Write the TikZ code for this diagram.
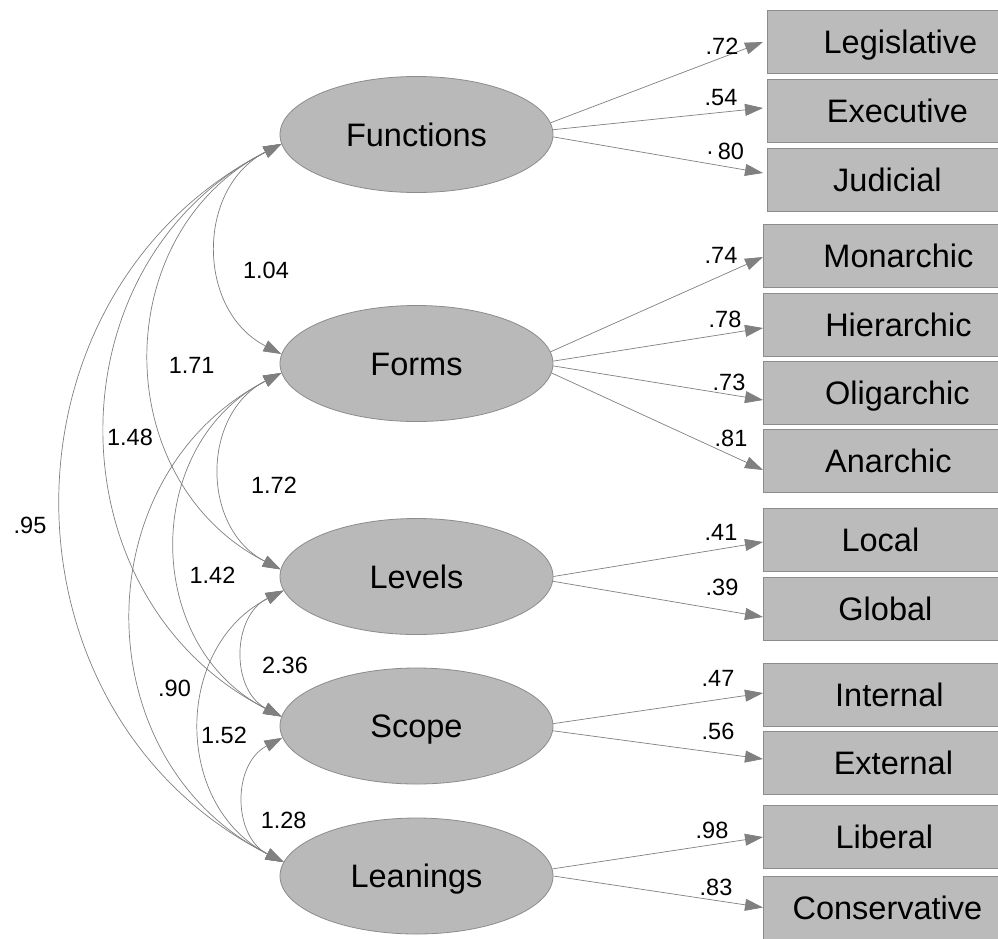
\documentclass[tikz,border=0pt]{standalone}
\usepackage{fontspec}
\setmainfont{Liberation Sans}
\usetikzlibrary{arrows.meta,calc,shapes.geometric}

\definecolor{latfill}{RGB}{185,185,185}
\definecolor{obsfill}{RGB}{187,187,187}
\definecolor{edgegray}{RGB}{140,140,140}
\definecolor{pathgray}{RGB}{128,128,128}

\begin{document}
\begin{tikzpicture}[x=1pt,y=-1pt,
  latent/.style={ellipse, draw=edgegray, fill=latfill, line width=0.8pt,
    minimum width=273pt, minimum height=116pt, inner sep=0pt,
    font=\fontsize{32.5}{36}\selectfont, text height=23.3pt, text depth=0pt},
  obs/.style={rectangle, draw=edgegray, fill=obsfill, line width=0.8pt,
    minimum width=260pt, minimum height=63pt, inner sep=0pt, anchor=west},
  obstext/.style={font=\fontsize{32.5}{36}\selectfont, text height=23.3pt,
    text depth=0pt, inner sep=0pt},
  coef/.style={font=\fontsize{23.5}{28}\selectfont, text height=16.8pt,
    text depth=0pt, inner sep=0pt},
  headtip/.tip={Triangle[length=18pt,width=12pt]},
  load/.style={draw=pathgray, line width=0.7pt, -headtip},
  cov/.style={draw=pathgray, line width=0.7pt, headtip-headtip,
    bend right=63, looseness=1.17},
]
\clip (0,0) rectangle (998,938);
\fill[white] (0,0) rectangle (998,938);

% latent factors
\node[latent] (fn) at (416.5,134.5) {Functions};
\node[latent] (fo) at (416.5,363.5) {Forms};
\node[latent] (lv) at (416.5,576.5) {Levels};
\node[latent] (sc) at (416.5,726)   {Scope};
\node[latent] (le) at (416.5,876)   {Leanings};

% indicators
\node[obs, label={[obstext, xshift=3pt]center:Legislative}]   (leg) at (767,41.5)  {};
\node[obs, label={[obstext, xshift=0pt]center:Executive}]     (exe) at (767,110.5) {};
\node[obs, label={[obstext, xshift=-10pt]center:Judicial}]    (jud) at (767,179.5) {};
\node[obs, label={[obstext, xshift=5pt]center:Monarchic}]     (mon) at (763,256)   {};
\node[obs, label={[obstext, xshift=5pt]center:Hierarchic}]    (hie) at (763,324.5) {};
\node[obs, label={[obstext, xshift=4pt]center:Oligarchic}]    (oli) at (763,393)   {};
\node[obs, label={[obstext, xshift=-5pt]center:Anarchic}]     (ana) at (763,461)   {};
\node[obs, label={[obstext, xshift=-13pt]center:Local}]       (loc) at (763,540)   {};
\node[obs, label={[obstext, xshift=-8pt]center:Global}]       (glo) at (763,609)   {};
\node[obs, label={[obstext, xshift=-4pt]center:Internal}]     (int) at (763,694.5) {};
\node[obs, label={[obstext, xshift=0pt]center:External}]      (ext) at (763,762.5) {};
\node[obs, label={[obstext, xshift=-9pt]center:Liberal}]      (lib) at (763,837)   {};
\node[obs, label={[obstext, xshift=-6pt]center:Conservative}] (con) at (763,907.5) {};

% factor loadings
\draw[load] (fn.5)    -- ($(leg.west)+(-4,0.5)$);
\draw[load] (fn.2.5)  -- ($(exe.west)+(-4,-2.5)$);
\draw[load] (fn.-1)   -- ($(jud.west)+(-4,-6.5)$);
\draw[load] (fo.5.7)  -- ($(mon.west)+(0,1)$);
\draw[load] (fo.1.9)  -- ($(hie.west)+(0,3.5)$);
\draw[load] (fo.-1.9) -- ($(oli.west)+(0,7)$);
\draw[load] (fo.-4.4) -- ($(ana.west)+(0,9)$);
\draw[load] (lv.0.2)  -- ($(loc.west)+(0,2)$);
\draw[load] (lv.-2.7) -- ($(glo.west)+(0,8)$);
\draw[load] (sc.1.7)  -- ($(int.west)+(0,-1.5)$);
\draw[load] (sc.-2.5) -- ($(ext.west)+(0,-3.5)$);
\draw[load] (le.3.8)  -- (lib.west);
\draw[load] (le.-0.4) -- (con.west);

\node[coef] (l72) at (722,46)  {.72};
\node[coef] (l54) at (721,97)  {.54};
\node[coef] (l80) at (725,151) {·\,80};
\node[coef] (l74) at (721,255) {.74};
\node[coef] (l78) at (725,319) {.78};
\node[coef] (l73) at (729,382) {.73};
\node[coef] (l81) at (731,438) {.81};
\node[coef] (l41) at (721,532) {.41};
\node[coef] (l39) at (722,587) {.39};
\node[coef] (l47) at (718,678) {.47};
\node[coef] (l56) at (718,731) {.56};
\node[coef] (l98) at (712,830) {.98};
\node[coef] (l83) at (716,887) {.83};

% covariances between factors
\draw[cov] (fn.184) to (fo.176);
\draw[cov] (fn.184) to (lv.177);
\draw[cov] (fn.184) to (sc.176);
\draw[cov] (fn.184) to (le.174);
\draw[cov] (fo.184) to (lv.177);
\draw[cov] (fo.184) to (sc.176);
\draw[cov] (fo.184) to (le.174);
\draw[cov] (lv.186.5) to (sc.176);
\draw[cov] (lv.186.5) to (le.174);
\draw[cov] (sc.185) to (le.174);

\node[coef] (c104) at (266,270)   {1.04};
\node[coef] (c171) at (191.7,365) {1.71};
\node[coef] (c148) at (130,436.7) {1.48};
\node[coef] (c095) at (30,525)    {.95};
\node[coef] (c172) at (274,485)   {1.72};
\node[coef] (c142) at (212.5,575.5) {1.42};
\node[coef] (c090) at (174.5,688.5) {.90};
\node[coef] (c236) at (285,665)   {2.36};
\node[coef] (c152) at (224,735)   {1.52};
\node[coef] (c128) at (283.7,820) {1.28};
\end{tikzpicture}
\end{document}
